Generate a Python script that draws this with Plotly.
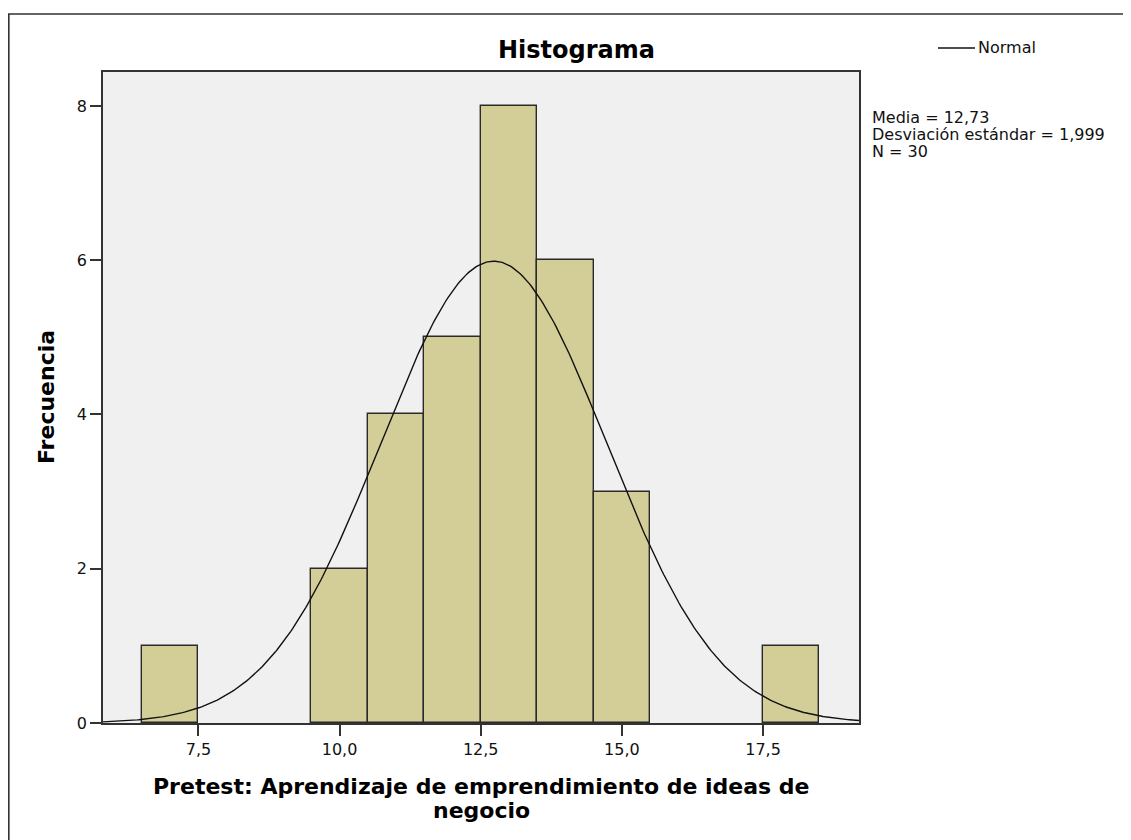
import numpy as np
import plotly.graph_objects as go

# ---- data ----
bin_centers = [7, 10, 11, 12, 13, 14, 15, 18]
frequencies = [1, 2, 4, 5, 8, 6, 3, 1]
bin_width = 1.0

MEAN = 12.73
SD = 1.999
N = 30

x_tick_vals = [7.5, 10.0, 12.5, 15.0, 17.5]
x_tick_text = ["7,5", "10,0", "12,5", "15,0", "17,5"]
y_tick_vals = [0, 2, 4, 6, 8]

title_text = "Histograma"
x_title_lines = ["Pretest: Aprendizaje de emprendimiento de ideas de", "negocio"]
y_title = "Frecuencia"
stats_lines = ["Media = 12,73", "Desviación estándar = 1,999", "N = 30"]
legend_label = "Normal"

X_RANGE = [5.81, 19.2]
Y_RANGE = [0, 8.44]

# ---- layout geometry (page pixels; the page body adds an 8px margin) ----
OFF = 8
W, H = 1131 - OFF, 840 - OFF
L, R, T, B = 103, 859, 72, 723  # plot area in page pixels


def px(xp):
    return (xp - L) / (R - L)


def py(yp):
    return (B - yp) / (B - T)


# normal curve from the stated mean / sd / N
xc = np.linspace(X_RANGE[0], X_RANGE[1], 400)
yc = N * bin_width * np.exp(-0.5 * ((xc - MEAN) / SD) ** 2) / (SD * np.sqrt(2 * np.pi))

FONT = "DejaVu Sans"
BAR_FILL = "#D3CE97"
EDGE = "#2a2a2a"

fig = go.Figure()
fig.add_trace(go.Bar(
    x=bin_centers, y=frequencies, width=bin_width,
    marker=dict(color=BAR_FILL, line=dict(color=EDGE, width=1.4)),
    showlegend=False, hoverinfo="skip",
))
fig.add_trace(go.Scatter(
    x=xc, y=yc, mode="lines", line=dict(color="#111111", width=1.4),
    showlegend=False, hoverinfo="skip", name=legend_label,
))

axis_common = dict(
    showgrid=False, zeroline=False, showline=True, mirror=True,
    linecolor="#333333", linewidth=1.6, ticks="outside", ticklen=11,
    tickcolor="#333333", tickwidth=1.5,
    tickfont=dict(family=FONT, size=16, color="#111111"),
)

fig.update_layout(
    width=W, height=H, autosize=False,
    margin=dict(l=L - OFF, r=(W + OFF) - R, t=T - OFF, b=(H + OFF) - B, pad=0),
    paper_bgcolor="white", plot_bgcolor="#F0F0F0",
    bargap=0,
    xaxis=dict(range=X_RANGE, tickvals=x_tick_vals, ticktext=x_tick_text, **axis_common),
    yaxis=dict(range=Y_RANGE, tickvals=y_tick_vals, **axis_common),
)

ann = []
ann.append(dict(text="<b>" + title_text + "</b>", x=px(576), y=py(50), xref="paper", yref="paper",
                xanchor="center", yanchor="middle", showarrow=False,
                font=dict(family=FONT, size=24, color="#000000")))
ann.append(dict(text="<b>" + x_title_lines[0] + "</b>", x=px(481), y=py(786), xref="paper", yref="paper",
                xanchor="center", yanchor="middle", showarrow=False,
                font=dict(family=FONT, size=22, color="#000000")))
ann.append(dict(text="<b>" + x_title_lines[1] + "</b>", x=px(481), y=py(810), xref="paper", yref="paper",
                xanchor="center", yanchor="middle", showarrow=False,
                font=dict(family=FONT, size=22, color="#000000")))
ann.append(dict(text="<b>" + y_title + "</b>", x=px(46), y=py(397), xref="paper", yref="paper",
                xanchor="center", yanchor="middle", showarrow=False, textangle=-90,
                font=dict(family=FONT, size=22, color="#000000")))
for i, line in enumerate(stats_lines):
    ann.append(dict(text=line, x=px(870), y=py(117.5 + 17 * i), xref="paper", yref="paper",
                    xanchor="left", yanchor="middle", showarrow=False,
                    font=dict(family=FONT, size=16, color="#111111")))
ann.append(dict(text=legend_label, x=px(976), y=py(48), xref="paper", yref="paper",
                xanchor="left", yanchor="middle", showarrow=False,
                font=dict(family=FONT, size=16, color="#111111")))
fig.update_layout(annotations=ann)

fig.add_shape(type="line", xref="paper", yref="paper",
              x0=px(938), x1=px(975), y0=py(48), y1=py(48),
              line=dict(color="#111111", width=1.4))
# outer chart frame
fig.add_shape(type="rect", xref="paper", yref="paper",
              x0=px(8.8), x1=px(1145), y0=py(14), y1=py(855),
              line=dict(color="#333333", width=1.6), fillcolor="rgba(0,0,0,0)")

fig.write_html("out.html")
